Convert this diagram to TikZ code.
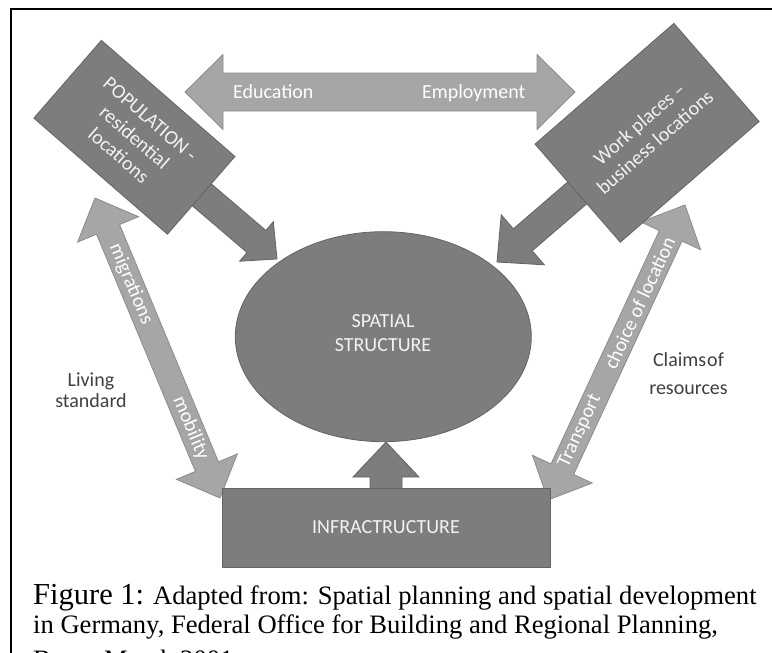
\documentclass[tikz,border=0pt]{standalone}
\usepackage{fontspec}
\setmainfont{Liberation Serif}
\newfontfamily\diagfont[Ligatures=TeX]{Carlito}
\usetikzlibrary{calc,shapes.geometric}

\definecolor{darkfill}{HTML}{7D7D7D}
\definecolor{darkline}{HTML}{646464}
\definecolor{lightfill}{HTML}{A6A6A6}
\definecolor{lightline}{HTML}{8C8C8C}
\definecolor{boxtext}{HTML}{F2F2F2}
\definecolor{sidetext}{HTML}{404040}

\tikzset{
  darkshape/.style={fill=darkfill, draw=darkline, line width=0.8pt, line join=miter},
  lightshape/.style={fill=lightfill, draw=lightline, line width=0.8pt, line join=miter},
  boxlabel/.style={text=boxtext, font=\diagfont\fontsize{20}{24}\selectfont, align=center},
  darkbox/.style={darkshape, boxlabel, inner sep=0pt},
  arrowlabel/.style={text=white, font=\diagfont\fontsize{20}{24}\selectfont, inner sep=0pt},
  sidelabel/.style={text=sidetext, font=\diagfont\fontsize{20}{24}\selectfont, align=center, inner sep=0pt},
  caption/.style={anchor=base west, inner sep=0pt, font=\fontsize{26.6}{30}\selectfont},
}

% block arrow with a head at both ends: style, tip A, tip B, shaft half width, head half width, head length
\newcommand\dblblock[6]{%
  \coordinate (ha) at ($(#2)!#6!(#3)$);
  \coordinate (hb) at ($(#3)!#6!(#2)$);
  \draw[#1] (#2) -- ($(ha)!#5!90:(#3)$) -- ($(ha)!#4!90:(#3)$)
    -- ($(hb)!#4!-90:(#2)$) -- ($(hb)!#5!-90:(#2)$) -- (#3)
    -- ($(hb)!#5!90:(#2)$) -- ($(hb)!#4!90:(#2)$)
    -- ($(ha)!#4!-90:(#3)$) -- ($(ha)!#5!-90:(#3)$) -- cycle;
}
% block arrow with one head: style, tail, tip, shaft half width, head half width, head length
\newcommand\oneblock[6]{%
  \coordinate (hp) at ($(#3)!#6!(#2)$);
  \draw[#1] ($(#2)!#4!90:(#3)$) -- ($(hp)!#4!-90:(#2)$) -- ($(hp)!#5!-90:(#2)$)
    -- (#3) -- ($(hp)!#5!90:(#2)$) -- ($(hp)!#4!90:(#2)$)
    -- ($(#2)!#4!-90:(#3)$) -- cycle;
}

\begin{document}
\begin{tikzpicture}[x=1pt, y=-1pt]
  \useasboundingbox (0,0) rectangle (772,653);
  \clip (0,0) rectangle (772,653);
  \fill[white] (0,0) rectangle (772,653);

  % frame
  \draw[line width=1.8pt] (11,9) rectangle (800,700);

  % arrow end points
  \coordinate (edL) at (185,92);
  \coordinate (edR) at (575,92);
  \coordinate (lmTop) at (95,198);
  \coordinate (lmBot) at (220,498);
  \coordinate (rtTop) at (685,205);
  \coordinate (rtBot) at (548,500);
  \coordinate (popTip) at (277,259);
  \coordinate (workTip) at (497,262);
  \coordinate (infTip) at (386,442);

  % central ellipse
  \node[ellipse, darkshape, minimum width=296pt, minimum height=210pt, inner sep=0pt] (ss) at (383.3,336.7) {};
  \node[boxlabel, inner sep=0pt] (ssText) at (383,333) {SPATIAL\\STRUCTURE};

  % light double arrows
  \dblblock{lightshape}{edL}{edR}{19pt}{37.5pt}{38pt}
  \node[arrowlabel, anchor=base] (edu) at (273.3,98.5) {Education};
  \node[arrowlabel, anchor=base] (emp) at (473.7,98.5) {Employment};

  \dblblock{lightshape}{lmTop}{lmBot}{12.5pt}{33pt}{34pt}
  \node[arrowlabel, rotate=-67.4] (migr) at ($(lmTop)!0.287!(lmBot)$) {migrations};
  \node[arrowlabel, rotate=-67.4] (mobi) at ($(lmTop)!0.767!(lmBot)$) {mobility};

  \dblblock{lightshape}{rtTop}{rtBot}{12.5pt}{33pt}{34pt}
  \node[arrowlabel, rotate=65.1] (trans) at ($(rtTop)!0.766!(rtBot)$) {Transport};
  \node[arrowlabel, rotate=65.1] (choice) at ($(rtTop)!0.332!(rtBot)$) {choice of location};

  % dark boxes and their arrows
  \coordinate (popC) at (134.4,137.3);
  \coordinate (workC) at (647.1,132.8);
  \oneblock{darkshape}{popC}{popTip}{14.5pt}{26pt}{27pt}
  \oneblock{darkshape}{workC}{workTip}{14.5pt}{33pt}{34pt}
  \node[darkbox, minimum width=177pt, minimum height=103pt, rotate=-41] (pop) at (popC)
    {POPULATION -\\residential\\locations};
  \node[darkbox, minimum width=184pt, minimum height=130pt, rotate=41] (work) at (workC)
    {Work places –\\business locations};

  \coordinate (infBase) at (386,527.5);
  \oneblock{darkshape}{infBase}{infTip}{16pt}{33pt}{35pt}
  \node[darkbox, minimum width=328pt, minimum height=79pt] (infra) at (infBase) {INFRACTRUCTURE};

  % side notes
  \node[sidelabel, font=\diagfont\fontsize{20}{21.5}\selectfont] (living) at (91,390) {Living\\standard};
  \node[sidelabel, font=\diagfont\fontsize{20}{28}\selectfont] (claims) at (688.5,374) {Claims\hspace{0.05em}of\\resources};

  % caption
  \node[caption] (cap1) at (33,604) {{\fontsize{30.5}{34}\selectfont Figure 1:} Adapted from: Spatial planning and spatial development};
  \node[caption] (cap2) at (33,633) {in Germany, Federal Office for Building and Regional Planning,};
  \node[caption] (cap3) at (33,668) {Bonn, March 2001};
\end{tikzpicture}
\end{document}
